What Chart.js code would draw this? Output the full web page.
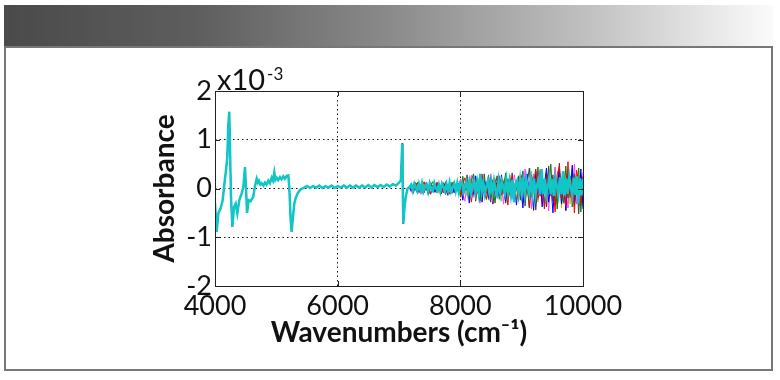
<!DOCTYPE html>
<html><head><meta charset="utf-8">
<script src="https://cdn.jsdelivr.net/npm/chart.js@4.4.1/dist/chart.umd.min.js"></script>
<style>
html,body{margin:0;padding:0;background:#fff;width:780px;height:380px;overflow:hidden;}
#hdr{position:absolute;left:4px;top:5px;width:769px;height:42px;background:linear-gradient(to right,#4a4a4a 0%,#5e5e5e 25%,#8a8a8a 50%,#bebebe 75%,#fbfbfb 100%);}
#box{position:absolute;left:4px;top:46px;width:769px;height:325px;box-sizing:border-box;border:2px solid #777;}
canvas{position:absolute;left:0;top:0;}
</style></head><body>
<div id="hdr"></div><div id="box"></div>
<canvas id="c" width="780" height="380"></canvas>
<script>
// ---- data (absorbance in units of 1e-3) ----
const xTicks = [4000, 6000, 8000, 10000];
const yTicks = [-2, -1, 0, 1, 2];

// structured part of the spectrum, shared by all spectra
const wnFeature = [4000,4027,4054,4093,4125,4147,4179,4201,4217,4233,4245,4261,4283,4310,4337,4364,4396,4435,4462,4489,4505,4522,4549,4582,4624,4652,4680,4700,4717,4740,4761,4790,4815,4840,4869,4895,4924,4945,4967,4985,5006,5030,5060,5085,5114,5140,5168,5195,5211,5234,5250,5271,5293,5315,5348,5385,5440,
5500,5550,5600,5650,5700,5750,5800,5850,5900,5950,6000,6050,6100,6150,6200,6250,6300,6350,6400,6450,6500,6550,6600,6650,6700,6750,6800,6850,6900,6950,7000,7030,7053,7058,7070,7090,7110,7140,7170];
const absFeature = [-0.30,-0.89,-0.51,-0.40,-0.24,0.03,0.37,0.65,1.30,1.57,0.80,-0.17,-0.79,-0.38,-0.31,-0.51,-0.24,-0.10,0.03,0.44,0.03,-0.50,-0.24,-0.26,-0.17,0.05,0.20,0.12,0.16,0.08,0.11,0.06,0.12,0.08,0.16,0.11,0.22,0.16,0.33,0.18,0.22,0.17,0.23,0.19,0.25,0.20,0.26,0.27,0.03,-0.65,-0.89,-0.58,-0.31,-0.20,-0.10,-0.03,0.01,
0.05,0.01,0.05,0.02,0.06,0.01,0.05,0.02,0.06,0.01,0.05,0.02,0.06,0.02,0.06,0.02,0.06,0.02,0.06,0.02,0.07,0.02,0.07,0.03,0.07,0.03,0.08,0.04,0.09,0.06,0.12,0.17,0.92,0.30,-0.72,-0.38,-0.17,0.00,0.03];

// noisy part, cyan spectrum (dense sampling)
const wnNoiseCyan = [7200,7225,7250,7275,7300,7325,7350,7375,7400,7425,7450,7475,7500,7525,7550,7575,7600,7625,7650,7675,7700,7725,7750,7775,7800,7825,7850,7875,7900,7925,7950,7975,8000,
8025,8050,8075,8100,8125,8150,8175,8200,8225,8250,8275,8300,8325,8350,8375,8400,8425,8450,8475,8500,8525,8550,8575,8600,8625,8650,8675,8700,8725,8750,8775,8800,8825,8850,8875,8900,8925,8950,8975,9000,
9025,9050,9075,9100,9125,9150,9175,9200,9225,9250,9275,9300,9325,9350,9375,9400,9425,9450,9475,9500,9525,9550,9575,9600,9625,9650,9675,9700,9725,9750,9775,9800,9825,9850,9875,9900,9925,9950,9975,10000];
const absNoiseCyan = [0.08,-0.04,0.10,0.02,-0.05,0.09,-0.03,0.11,-0.05,0.04,0.08,-0.06,0.10,-0.02,-0.05,0.11,0.01,-0.04,0.08,-0.06,0.10,0.03,-0.05,0.09,-0.04,0.12,-0.06,0.02,0.10,-0.05,0.11,-0.07,0.12,
0.13,-0.07,0.04,0.14,-0.08,0.12,-0.10,0.02,0.15,-0.07,0.13,-0.09,0.30,-0.06,0.12,-0.11,0.05,0.16,-0.08,0.13,-0.10,0.15,-0.04,-0.12,0.16,-0.09,0.14,0.03,-0.10,0.17,-0.08,0.14,-0.12,0.18,-0.28,0.10,0.16,-0.10,0.18,-0.09,
0.17,-0.11,0.20,0.02,-0.12,0.19,-0.10,0.21,-0.13,0.06,0.18,-0.12,0.40,-0.11,0.20,-0.14,0.04,0.22,-0.12,0.19,-0.15,0.21,0.05,-0.13,0.23,-0.12,0.35,-0.14,0.20,-0.11,0.24,0.02,-0.15,0.22,-0.13,0.25,-0.30,0.21,-0.14,0.20];

// noisy part, other spectra
const wnNoise = [7200,7235,7270,7305,7340,7375,7410,7445,7480,7515,7550,7585,7620,7655,7690,7725,7760,7795,7830,7865,7900,7935,7970,
8005,8040,8075,8110,8145,8180,8215,8250,8285,8320,8355,8390,8425,8460,8495,8530,8565,8600,8635,8670,8705,8740,8775,8810,8845,8880,8915,8950,8985,
9020,9055,9090,9125,9160,9195,9230,9265,9300,9335,9370,9405,9440,9475,9510,9545,9580,9615,9650,9685,9720,9755,9790,9825,9860,9895,9930,9965,10000];
const absNoiseRed = [0.06,-0.03,0.12,0.02,-0.08,0.05,0.14,-0.04,0.03,-0.11,0.07,0.01,0.13,-0.05,0.04,-0.09,0.10,0.02,-0.12,0.06,0.15,-0.04,0.05,
-0.18,0.08,0.22,-0.05,0.10,-0.28,0.04,0.19,-0.10,0.06,0.30,-0.08,-0.22,0.12,0.05,-0.30,0.18,0.02,0.26,-0.12,-0.06,0.14,-0.34,0.09,0.24,-0.08,0.04,-0.26,0.20,
0.33,-0.12,0.06,-0.38,0.22,0.10,0.40,-0.20,-0.05,0.28,-0.42,0.12,0.35,-0.15,0.08,-0.48,0.30,0.45,-0.22,0.10,-0.35,0.55,-0.18,0.20,-0.50,0.38,0.12,-0.30,0.25];
const absNoiseBlue = [-0.05,0.09,-0.02,-0.10,0.04,0.11,-0.06,0.02,-0.13,0.08,0.03,-0.07,0.12,-0.02,-0.10,0.05,0.09,-0.14,0.03,0.07,-0.09,0.11,-0.04,
0.10,-0.24,0.05,0.18,-0.30,0.02,-0.12,0.26,-0.06,0.08,-0.28,0.15,0.04,-0.20,0.22,-0.32,0.06,0.12,-0.16,0.28,-0.05,-0.26,0.10,0.20,-0.12,0.03,-0.34,0.16,0.08,
-0.40,0.18,0.30,-0.15,0.05,-0.45,0.36,-0.10,0.22,-0.38,0.08,0.42,-0.28,0.12,-0.50,0.25,0.05,0.38,-0.32,0.15,-0.44,0.30,-0.12,0.48,-0.36,0.10,-0.28,0.40,-0.42];
const absNoiseGreen = [0.10,-0.04,0.03,0.13,-0.08,0.02,-0.05,0.11,-0.10,0.06,0.14,-0.03,-0.09,0.08,0.02,0.12,-0.11,0.05,-0.03,0.13,-0.07,0.04,0.10,
-0.12,0.25,-0.04,0.08,-0.22,0.16,0.30,-0.10,0.04,-0.26,0.12,0.20,-0.08,0.28,-0.18,0.06,-0.30,0.10,0.24,-0.14,0.05,0.32,-0.20,-0.08,0.18,-0.28,0.12,0.26,-0.10,
0.36,-0.20,0.12,-0.40,0.28,0.05,-0.30,0.44,-0.16,0.20,-0.36,0.32,-0.08,0.50,-0.26,0.14,-0.42,0.34,0.08,-0.30,0.46,-0.20,0.25,-0.38,0.30,-0.12,0.42,-0.48,0.22];
const absNoiseMagenta = [-0.08,0.05,0.12,-0.03,0.07,-0.12,0.02,0.10,-0.06,0.13,-0.02,-0.09,0.06,0.11,-0.05,0.03,-0.13,0.09,0.04,-0.07,0.12,-0.03,0.08,
0.20,-0.10,-0.26,0.12,0.04,0.27,-0.18,0.08,-0.06,-0.30,0.22,0.02,0.14,-0.24,0.30,-0.08,0.06,-0.20,0.18,0.10,-0.32,0.24,-0.04,0.12,-0.22,0.28,0.04,-0.16,0.22,
-0.28,0.40,-0.10,0.16,-0.42,0.30,0.06,-0.24,0.38,-0.34,0.12,0.28,-0.46,0.20,-0.06,0.44,-0.30,0.18,-0.22,0.36,0.04,-0.40,0.26,-0.14,0.50,-0.32,0.20,-0.26,0.34];
const absNoiseBlack = [0.04,-0.10,0.08,0.12,-0.05,0.03,-0.09,0.13,0.01,-0.12,0.06,0.10,-0.04,0.09,-0.11,0.02,0.14,-0.06,0.05,-0.10,0.11,0.03,-0.08,
0.16,-0.20,0.06,0.28,-0.12,-0.04,0.22,-0.26,0.10,0.04,-0.18,0.30,-0.10,0.08,-0.28,0.18,0.02,0.26,-0.22,0.06,0.14,-0.30,0.20,-0.08,0.32,-0.14,0.02,0.24,-0.24,
0.30,-0.36,0.10,0.42,-0.18,0.24,-0.44,0.08,0.36,-0.26,0.14,-0.38,0.46,-0.12,0.28,-0.34,0.06,0.52,-0.28,0.16,-0.46,0.32,-0.10,0.40,-0.30,0.18,-0.52,0.28,-0.36];
const absNoiseYellow = [0.07,-0.06,0.10,-0.02,0.05,-0.09,0.12,0.03,-0.07,0.08,-0.04,0.11,0.02,-0.10,0.06,-0.03,0.12,-0.06,0.04,0.09,-0.08,0.05,-0.02,
-0.10,0.18,0.04,-0.16,0.24,-0.06,0.10,-0.20,0.14,0.26,-0.12,0.02,-0.24,0.16,0.06,-0.14,0.22,-0.04,0.12,-0.26,0.18,0.08,-0.18,0.28,-0.06,0.10,-0.22,0.20,0.04,
-0.30,0.26,0.08,-0.34,0.36,-0.12,0.20,-0.28,0.40,-0.06,0.14,-0.38,0.30,0.04,-0.24,0.42,-0.18,0.22,-0.40,0.34,-0.08,0.18,-0.32,0.44,-0.20,0.12,-0.36,0.30,-0.14];

const otherSeries = [
  {color:'#ff0000', noise:absNoiseRed},
  {color:'#0000ff', noise:absNoiseBlue},
  {color:'#008000', noise:absNoiseGreen},
  {color:'#ff40ff', noise:absNoiseMagenta},
  {color:'#404040', noise:absNoiseBlack},
  {color:'#c0c000', noise:absNoiseYellow}
];

// ---- build datasets ----
const pts = (xs, ys) => xs.map((x, i) => ({x: x, y: ys[i]}));
const featurePts = pts(wnFeature, absFeature);
const datasets = [{
  data: featurePts.concat(pts(wnNoiseCyan, absNoiseCyan)),
  borderColor: '#10c6c6', borderWidth: 2.5
}].concat(otherSeries.map(s => ({
  data: featurePts.concat(pts(wnNoise, s.noise)),
  borderColor: s.color, borderWidth: 1
})));
datasets.forEach(d => { d.pointRadius = 0; d.tension = 0; d.fill = false; });

const FONT = 'Lato, "Open Sans", sans-serif';

const decor = {
  id: 'decor',
  afterDatasetsDraw(chart) {
    const {ctx, chartArea: a, scales: {x, y}} = chart;
    ctx.save();
    ctx.strokeStyle = '#222';
    ctx.lineWidth = 1;
    ctx.strokeRect(Math.round(a.left) + 0.5, Math.round(a.top) + 0.5, Math.round(a.right - a.left), Math.round(a.bottom - a.top));
    ctx.beginPath();
    xTicks.forEach(v => {
      const px = Math.round(x.getPixelForValue(v)) + 0.5;
      ctx.moveTo(px, a.bottom); ctx.lineTo(px, a.bottom - 5);
      ctx.moveTo(px, a.top); ctx.lineTo(px, a.top + 5);
    });
    yTicks.forEach(v => {
      const py = Math.round(y.getPixelForValue(v)) + 0.5;
      ctx.moveTo(a.left, py); ctx.lineTo(a.left + 5, py);
      ctx.moveTo(a.right, py); ctx.lineTo(a.right - 5, py);
    });
    ctx.stroke();
    // exponent label
    ctx.fillStyle = '#111';
    ctx.textBaseline = 'alphabetic';
    ctx.textAlign = 'left';
    ctx.font = '29px ' + FONT;
    ctx.fillText('x10', a.left + 2, a.top - 1);
    const w = ctx.measureText('x10').width;
    ctx.font = '17px ' + FONT;
    ctx.fillText('-3', a.left + 4 + w, a.top - 11);
    ctx.restore();
  }
};

const interior = (vals) => (c) => (c.tick && (c.tick.value === vals[0] || c.tick.value === vals[vals.length - 1])) ? 'rgba(0,0,0,0)' : '#111';

new Chart(document.getElementById('c'), {
  type: 'line',
  data: {datasets: datasets},
  options: {
    responsive: false,
    animation: false,
    events: [],
    parsing: false,
    normalized: true,
    layout: {padding: {left: 148, top: 91, right: 197, bottom: 30}},
    plugins: {legend: {display: false}, tooltip: {enabled: false}},
    scales: {
      x: {
        type: 'linear', min: 4000, max: 10000,
        afterBuildTicks: s => { s.ticks = xTicks.map(v => ({value: v})); },
        afterFit: s => { s.height = 64; },
        ticks: {font: {family: FONT, size: 27}, color: '#111', padding: 4, maxRotation: 0, autoSkip: false, callback: v => String(v)},
        grid: {drawTicks: false, color: interior(xTicks), lineWidth: 1},
        border: {display: false, dash: [1.5, 3]},
        title: {display: true, text: 'Wavenumbers (cm⁻¹)', font: {family: FONT, size: 28, weight: 'bold'}, color: '#111', padding: {top: 0, bottom: 0}}
      },
      y: {
        type: 'linear', min: -2, max: 2,
        afterBuildTicks: s => { s.ticks = yTicks.map(v => ({value: v})); },
        afterFit: s => { s.width = 67; },
        ticks: {font: {family: FONT, size: 27}, color: '#111', padding: 3, callback: v => String(v)},
        grid: {drawTicks: false, color: interior(yTicks), lineWidth: 1},
        border: {display: false, dash: [1.5, 3]},
        title: {display: true, text: 'Absorbance', font: {family: FONT, size: 28, weight: 'bold'}, color: '#111', padding: {top: 0, bottom: 0}}
      }
    }
  },
  plugins: [decor]
});
</script></body></html>
